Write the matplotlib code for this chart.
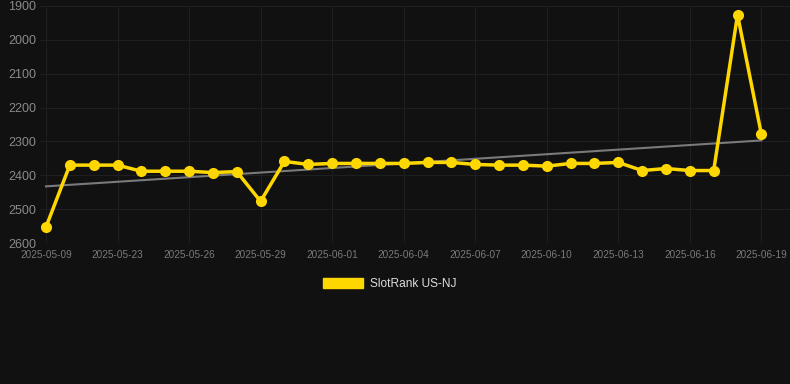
import numpy as np
import matplotlib
matplotlib.use("Agg")
import matplotlib.pyplot as plt
from matplotlib.patches import Patch

plt.rcParams['font.family'] = ['Liberation Sans', 'DejaVu Sans']

dates = ["2025-05-09", "2025-05-21", "2025-05-22", "2025-05-23", "2025-05-24", "2025-05-25",
         "2025-05-26", "2025-05-27", "2025-05-28", "2025-05-29", "2025-05-30", "2025-05-31",
         "2025-06-01", "2025-06-02", "2025-06-03", "2025-06-04", "2025-06-05", "2025-06-06",
         "2025-06-07", "2025-06-08", "2025-06-09", "2025-06-10", "2025-06-11", "2025-06-12",
         "2025-06-13", "2025-06-14", "2025-06-15", "2025-06-16", "2025-06-17", "2025-06-18",
         "2025-06-19"]
ranks = [2553, 2370, 2370, 2370, 2388, 2388, 2388, 2392, 2389, 2477, 2359, 2368,
         2365, 2365, 2365, 2365, 2362, 2362, 2368, 2370, 2370, 2373, 2365, 2365,
         2362, 2386, 2380, 2386, 2386, 1926, 2279]
series_name = "SlotRank US-NJ"
y_ticks = [1900, 2000, 2100, 2200, 2300, 2400, 2500, 2600]

bg = "#111111"
gold = "#FFD700"

fig = plt.figure(figsize=(7.9, 3.84), dpi=100, facecolor=bg)
ax = fig.add_axes([40/790, (384-243)/384, 750/790, 237/384])
ax.set_facecolor(bg)

x = np.arange(len(dates))
y = np.array(ranks, dtype=float)

coef = np.polyfit(x, y, 1)
ax.plot([x[0], x[-1]], np.polyval(coef, [x[0], x[-1]]), color="#7a7a7a", lw=1.5, zorder=2)

ax.plot(x, y, color=gold, lw=2.5, marker="o", markersize=8, markeredgewidth=0, zorder=3)

ax.set_ylim(2600, 1900)
ax.set_yticks(y_ticks)
ax.set_xlim(-0.25, 31.2)
tick_idx = list(range(0, len(dates), 3))
ax.set_xticks(tick_idx)
ax.set_xticklabels([dates[i] for i in tick_idx])

ax.grid(True, color="#1f1f1f", lw=0.8)
for s in ax.spines.values():
    s.set_visible(False)
ax.tick_params(axis="y", colors="#8a8a8a", labelsize=9, length=0, pad=3)
ax.tick_params(axis="x", colors="#7a7a7a", labelsize=7.2, length=0, pad=5)

leg = fig.legend(handles=[Patch(facecolor=gold, edgecolor=gold)], labels=[series_name],
                 loc="center", bbox_to_anchor=(390/790, 1 - 284/384), frameon=False,
                 handlelength=3.3, handleheight=0.9, fontsize=8.6, labelcolor="#dddddd",
                 handletextpad=0.6)

fig.savefig("out.png", dpi=100, facecolor=bg)
